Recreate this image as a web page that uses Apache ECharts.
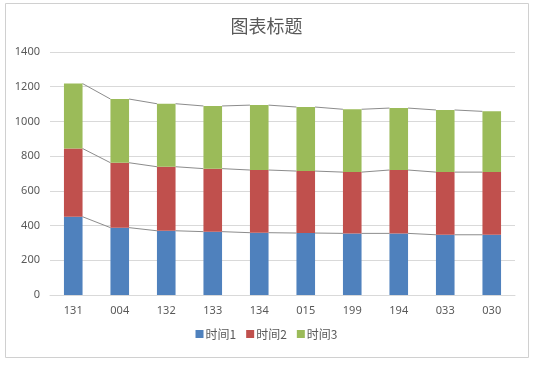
<!DOCTYPE html>
<html><head><meta charset="utf-8">
<script src="https://cdn.jsdelivr.net/npm/echarts@6/dist/echarts.min.js"></script>
<style>html,body{margin:0;padding:0;background:#fff;}#c{width:533px;height:365px;}</style>
</head><body><div id="c"></div>
<script>
const categories = ['131','004','132','133','134','015','199','194','033','030'];
const time1 = [451, 388, 370, 365, 359, 357, 355, 355, 347, 347];
const time2 = [393, 374, 369, 363, 361, 357, 353, 365, 361, 361];
const time3 = [374, 367, 363, 361, 374, 369, 362, 357, 358, 350];
const seriesNames = ['时间1','时间2','时间3'];
const yTicks = [0, 200, 400, 600, 800, 1000, 1200, 1400];
const colors = ['#4f81bd','#c0504d','#9bbb59'];

const stacks = [time1, time2, time3];
const cum = [];
let run = categories.map(() => 0);
stacks.forEach(s => { run = run.map((v, i) => v + s[i]); cum.push(run.slice()); });

const barRatio = 0.4;
function seriesLineData(level) {
  const c = cum[level];
  const d = [];
  for (let i = 0; i < c.length - 1; i++) d.push([i, c[i], c[i + 1]]);
  return d;
}
const lineSeries = cum.map((c, k) => ({
  type: 'custom',
  silent: true,
  z: 1,
  data: seriesLineData(k),
  encode: { x: 0, y: [1, 2] },
  renderItem: function (params, api) {
    const i = api.value(0);
    const p1 = api.coord([i, api.value(1)]);
    const p2 = api.coord([i + 1, api.value(2)]);
    const half = api.size([1, 0])[0] * barRatio / 2;
    return {
      type: 'line',
      shape: { x1: p1[0] + half, y1: p1[1], x2: p2[0] - half, y2: p2[1] },
      style: { stroke: '#8c8c8c', lineWidth: 1 }
    };
  }
}));

const chart = echarts.init(document.getElementById('c'), null, { renderer: 'canvas' });
chart.setOption({
  animation: false,
  backgroundColor: '#fff',
  title: {
    text: '图表标题', left: 'center', top: 12,
    textStyle: { fontSize: 18, fontWeight: 'normal', color: '#595959', fontFamily: 'Noto Sans CJK SC' }
  },
  legend: {
    bottom: 20, left: 'center', itemWidth: 8, itemHeight: 8, itemGap: 10,
    icon: 'rect',
    data: seriesNames,
    textStyle: { fontSize: 12, color: '#595959', fontFamily: 'Noto Sans CJK SC', padding: [0,0,0,-3] }
  },
  grid: { left: 50, right: 18, top: 52, bottom: 70 },
  xAxis: {
    type: 'category', data: categories,
    axisLine: { lineStyle: { color: '#d9d9d9' } },
    axisTick: { show: false },
    axisLabel: { color: '#595959', fontSize: 11, margin: 10, fontFamily: 'Noto Sans' }
  },
  yAxis: {
    type: 'value', min: 0, max: yTicks[yTicks.length - 1], interval: 200,
    axisLine: { show: false }, axisTick: { show: false },
    splitLine: { lineStyle: { color: '#d9d9d9' } },
    axisLabel: { color: '#595959', fontSize: 11, margin: 10, fontFamily: 'Noto Sans',
      formatter: v => String(v) }
  },
  series: stacks.map((s, k) => ({
    name: seriesNames[k], type: 'bar', stack: 'total', data: s,
    barWidth: (barRatio * 100) + '%', itemStyle: { color: colors[k] }, z: 2
  })).concat(lineSeries),
  graphic: [{
    type: 'rect', shape: { x: 5.5, y: 3.5, width: 523, height: 354 },
    style: { fill: null, stroke: '#d0d0d0', lineWidth: 1 }, silent: true
  }]
});
</script></body></html>
